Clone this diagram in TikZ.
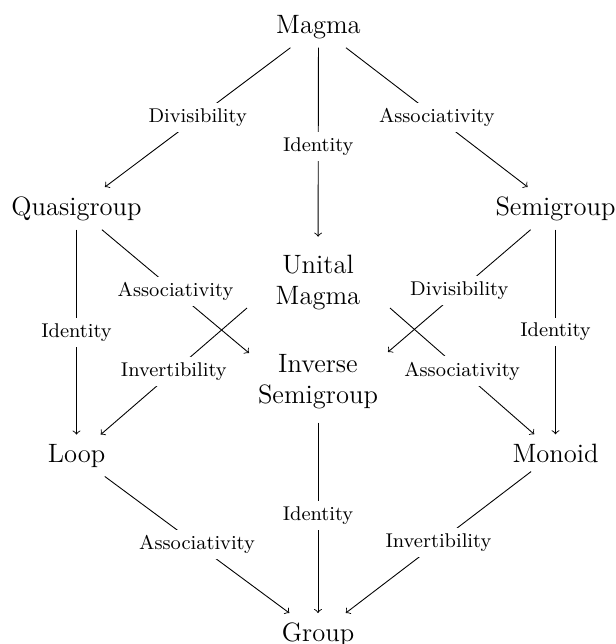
\documentclass[tikz,border=0pt]{standalone}
\begin{document}
\begin{tikzpicture}[x=0.452pt,y=-0.452pt,
  obj/.style={font=\large, inner sep=4pt, anchor=base},
  objtwo/.style={font=\large, align=center, inner sep=4pt, anchor=north},
  lbl/.style={font=\small, fill=white, inner sep=2.5pt},
  arr/.style={->, line width=0.4pt}]
\useasboundingbox (0,0) rectangle (616,644);
% objects
\node[obj] (magma) at (318.5,33) {Magma};
\node[obj] (quasi) at (76.5,215) {Quasigroup};
\node[obj] (semi) at (555.5,215) {Semigroup};
\node[objtwo] (unital) at (318,245.5) {Unital\\Magma};
\node[objtwo] (inverse) at (318,345) {Inverse\\Semigroup};
\node[obj] (loop) at (76.5,462) {Loop};
\node[obj] (monoid) at (555.5,462) {Monoid};
\node[obj] (group) at (318,641) {Group};
% free ends near the central column
\coordinate (isL) at (249,353);
\coordinate (isR) at (388,352);
\coordinate (umL) at (247,308);
\coordinate (umR) at (390,308);
% arrows
\draw[arr] (magma) -- node[lbl] {Divisibility} (quasi);
\draw[arr, shorten >=4pt] (magma) -- node[lbl] {Identity} (unital);
\draw[arr] (magma) -- node[lbl] {Associativity} (semi);
\draw[arr] (quasi) -- node[lbl] {Identity} (loop);
\draw[arr] (quasi) -- node[lbl] {Associativity} (isL);
\draw[arr] (umL) -- node[lbl] {Invertibility} (loop);
\draw[arr] (semi) -- node[lbl] {Divisibility} (isR);
\draw[arr] (umR) -- node[lbl] {Associativity} (monoid);
\draw[arr] (semi) -- node[lbl] {Identity} (monoid);
\draw[arr] (loop) -- node[lbl] {Associativity} (group);
\draw[arr, shorten <=2pt] (inverse) -- node[lbl] {Identity} (group);
\draw[arr] (monoid) -- node[lbl] {Invertibility} (group);
\end{tikzpicture}
\end{document}
